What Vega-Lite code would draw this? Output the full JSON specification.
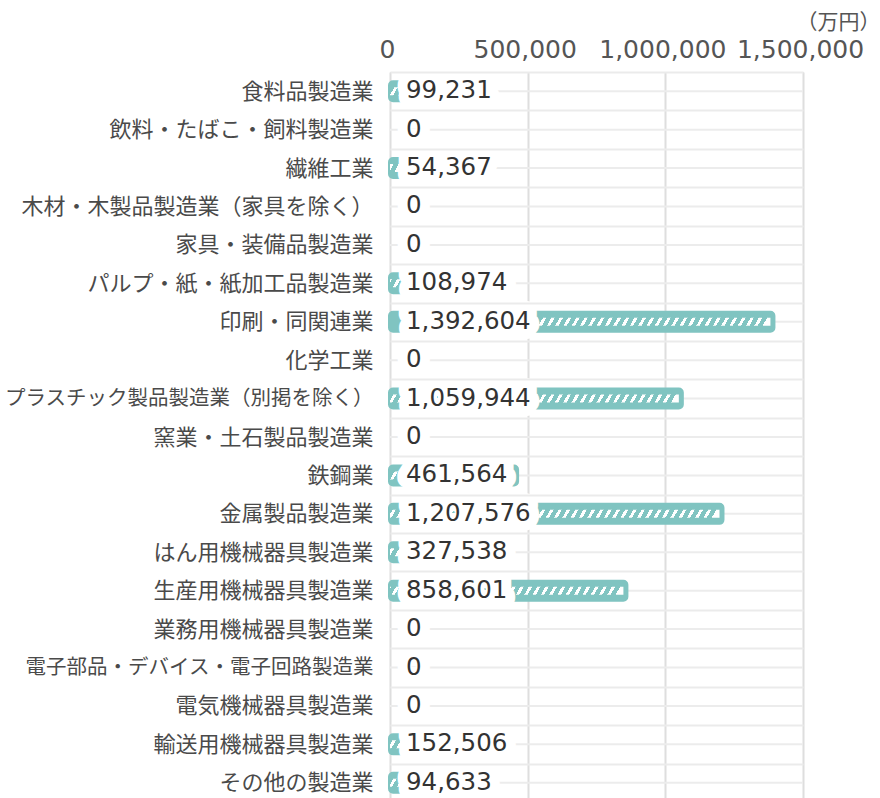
{
  "$schema": "https://vega.github.io/schema/vega-lite/v6.json",
  "autosize": {"type": "none"},
  "padding": {"left": 390, "top": 72, "right": 77, "bottom": 0},
  "width": 413,
  "height": 730,
  "background": "white",
  "data": {
    "values": [
      {"category": "食料品製造業", "value": 99231},
      {"category": "飲料・たばこ・飼料製造業", "value": 0},
      {"category": "繊維工業", "value": 54367},
      {"category": "木材・木製品製造業（家具を除く）", "value": 0},
      {"category": "家具・装備品製造業", "value": 0},
      {"category": "パルプ・紙・紙加工品製造業", "value": 108974},
      {"category": "印刷・同関連業", "value": 1392604},
      {"category": "化学工業", "value": 0},
      {"category": "プラスチック製品製造業（別掲を除く）", "value": 1059944},
      {"category": "窯業・土石製品製造業", "value": 0},
      {"category": "鉄鋼業", "value": 461564},
      {"category": "金属製品製造業", "value": 1207576},
      {"category": "はん用機械器具製造業", "value": 327538},
      {"category": "生産用機械器具製造業", "value": 858601},
      {"category": "業務用機械器具製造業", "value": 0},
      {"category": "電子部品・デバイス・電子回路製造業", "value": 0},
      {"category": "電気機械器具製造業", "value": 0},
      {"category": "輸送用機械器具製造業", "value": 152506},
      {"category": "その他の製造業", "value": 94633}
    ]
  },
  "encoding": {
    "y": {
      "field": "category", "type": "nominal", "sort": null,
      "scale": {"paddingInner": 0, "paddingOuter": 0},
      "axis": {
        "title": null, "domain": false, "ticks": false, "tickBand": "extent",
        "grid": true, "gridColor": "#ebebeb", "gridWidth": 2,
        "labelFont": "Noto Sans CJK JP",
        "labelFontSize": {"condition": {"test": "length(datum.label) >= 17", "value": 20.5}, "value": 22},
        "labelColor": "#4a4a4a", "labelPadding": 17, "labelLimit": 600, "zindex": 1
      }
    }
  },
  "layer": [
    {
      "mark": {"type": "rule", "color": "#ececec", "strokeWidth": 2},
      "encoding": {
        "x": {"datum": 0, "type": "quantitative", "scale": {"domain": [0, 1500000], "nice": false, "zero": true},
          "axis": {
            "orient": "top", "values": [0, 500000, 1000000, 1500000],
            "labelExpr": "format(datum.value, ',')",
            "title": "（万円）", "domain": false, "ticks": false,
            "grid": true, "gridColor": "#dedede", "gridWidth": 2,
            "labelFont": "DejaVu Sans", "labelFontSize": 25, "labelColor": "#555555",
            "labelPadding": 10, "labelOffset": -3, "labelFlush": false, "labelOverlap": false,
            "titleFont": "Noto Sans CJK JP", "titleFontSize": 21, "titleColor": "#555555",
            "titleFontWeight": "normal", "titleX": 490, "titleY": -50,
            "titleAlign": "right", "titleBaseline": "middle", "titleAnchor": "end", "zindex": 0
          }
        },
        "x2": {"datum": 1500000}
      }
    },
    {
      "transform": [{"filter": "datum.value > 0"}],
      "mark": {"type": "bar", "height": 18, "color": "#80c4c1", "stroke": "#80c4c1", "strokeWidth": 4, "cornerRadius": 3},
      "encoding": {
        "x": {"field": "value", "type": "quantitative"},
        "x2": {"datum": 0}
      }
    },
    {
      "transform": [{"filter": "datum.value > 0"}],
      "mark": {
        "type": "bar", "height": 8, "clip": true, "xOffset": -335, "x2Offset": -3,
        "fill": {
          "gradient": "linear", "x1": 0, "y1": 0, "x2": 1, "y2": 0.0136,
          "stops": [
            {"offset": 0, "color": "#80c4c1"}, {"offset": 0.015, "color": "#80c4c1"}, {"offset": 0.015, "color": "#ffffff"}, {"offset": 0.025, "color": "#ffffff"},
            {"offset": 0.025, "color": "#80c4c1"}, {"offset": 0.04, "color": "#80c4c1"}, {"offset": 0.04, "color": "#ffffff"}, {"offset": 0.05, "color": "#ffffff"},
            {"offset": 0.05, "color": "#80c4c1"}, {"offset": 0.065, "color": "#80c4c1"}, {"offset": 0.065, "color": "#ffffff"}, {"offset": 0.075, "color": "#ffffff"},
            {"offset": 0.075, "color": "#80c4c1"}, {"offset": 0.09, "color": "#80c4c1"}, {"offset": 0.09, "color": "#ffffff"}, {"offset": 0.1, "color": "#ffffff"},
            {"offset": 0.1, "color": "#80c4c1"}, {"offset": 0.115, "color": "#80c4c1"}, {"offset": 0.115, "color": "#ffffff"}, {"offset": 0.125, "color": "#ffffff"},
            {"offset": 0.125, "color": "#80c4c1"}, {"offset": 0.14, "color": "#80c4c1"}, {"offset": 0.14, "color": "#ffffff"}, {"offset": 0.15, "color": "#ffffff"},
            {"offset": 0.15, "color": "#80c4c1"}, {"offset": 0.165, "color": "#80c4c1"}, {"offset": 0.165, "color": "#ffffff"}, {"offset": 0.175, "color": "#ffffff"},
            {"offset": 0.175, "color": "#80c4c1"}, {"offset": 0.19, "color": "#80c4c1"}, {"offset": 0.19, "color": "#ffffff"}, {"offset": 0.2, "color": "#ffffff"},
            {"offset": 0.2, "color": "#80c4c1"}, {"offset": 0.215, "color": "#80c4c1"}, {"offset": 0.215, "color": "#ffffff"}, {"offset": 0.225, "color": "#ffffff"},
            {"offset": 0.225, "color": "#80c4c1"}, {"offset": 0.24, "color": "#80c4c1"}, {"offset": 0.24, "color": "#ffffff"}, {"offset": 0.25, "color": "#ffffff"},
            {"offset": 0.25, "color": "#80c4c1"}, {"offset": 0.265, "color": "#80c4c1"}, {"offset": 0.265, "color": "#ffffff"}, {"offset": 0.275, "color": "#ffffff"},
            {"offset": 0.275, "color": "#80c4c1"}, {"offset": 0.29, "color": "#80c4c1"}, {"offset": 0.29, "color": "#ffffff"}, {"offset": 0.3, "color": "#ffffff"},
            {"offset": 0.3, "color": "#80c4c1"}, {"offset": 0.315, "color": "#80c4c1"}, {"offset": 0.315, "color": "#ffffff"}, {"offset": 0.325, "color": "#ffffff"},
            {"offset": 0.325, "color": "#80c4c1"}, {"offset": 0.34, "color": "#80c4c1"}, {"offset": 0.34, "color": "#ffffff"}, {"offset": 0.35, "color": "#ffffff"},
            {"offset": 0.35, "color": "#80c4c1"}, {"offset": 0.365, "color": "#80c4c1"}, {"offset": 0.365, "color": "#ffffff"}, {"offset": 0.375, "color": "#ffffff"},
            {"offset": 0.375, "color": "#80c4c1"}, {"offset": 0.39, "color": "#80c4c1"}, {"offset": 0.39, "color": "#ffffff"}, {"offset": 0.4, "color": "#ffffff"},
            {"offset": 0.4, "color": "#80c4c1"}, {"offset": 0.415, "color": "#80c4c1"}, {"offset": 0.415, "color": "#ffffff"}, {"offset": 0.425, "color": "#ffffff"},
            {"offset": 0.425, "color": "#80c4c1"}, {"offset": 0.44, "color": "#80c4c1"}, {"offset": 0.44, "color": "#ffffff"}, {"offset": 0.45, "color": "#ffffff"},
            {"offset": 0.45, "color": "#80c4c1"}, {"offset": 0.465, "color": "#80c4c1"}, {"offset": 0.465, "color": "#ffffff"}, {"offset": 0.475, "color": "#ffffff"},
            {"offset": 0.475, "color": "#80c4c1"}, {"offset": 0.49, "color": "#80c4c1"}, {"offset": 0.49, "color": "#ffffff"}, {"offset": 0.5, "color": "#ffffff"},
            {"offset": 0.5, "color": "#80c4c1"}, {"offset": 0.515, "color": "#80c4c1"}, {"offset": 0.515, "color": "#ffffff"}, {"offset": 0.525, "color": "#ffffff"},
            {"offset": 0.525, "color": "#80c4c1"}, {"offset": 0.54, "color": "#80c4c1"}, {"offset": 0.54, "color": "#ffffff"}, {"offset": 0.55, "color": "#ffffff"},
            {"offset": 0.55, "color": "#80c4c1"}, {"offset": 0.565, "color": "#80c4c1"}, {"offset": 0.565, "color": "#ffffff"}, {"offset": 0.575, "color": "#ffffff"},
            {"offset": 0.575, "color": "#80c4c1"}, {"offset": 0.59, "color": "#80c4c1"}, {"offset": 0.59, "color": "#ffffff"}, {"offset": 0.6, "color": "#ffffff"},
            {"offset": 0.6, "color": "#80c4c1"}, {"offset": 0.615, "color": "#80c4c1"}, {"offset": 0.615, "color": "#ffffff"}, {"offset": 0.625, "color": "#ffffff"},
            {"offset": 0.625, "color": "#80c4c1"}, {"offset": 0.64, "color": "#80c4c1"}, {"offset": 0.64, "color": "#ffffff"}, {"offset": 0.65, "color": "#ffffff"},
            {"offset": 0.65, "color": "#80c4c1"}, {"offset": 0.665, "color": "#80c4c1"}, {"offset": 0.665, "color": "#ffffff"}, {"offset": 0.675, "color": "#ffffff"},
            {"offset": 0.675, "color": "#80c4c1"}, {"offset": 0.69, "color": "#80c4c1"}, {"offset": 0.69, "color": "#ffffff"}, {"offset": 0.7, "color": "#ffffff"},
            {"offset": 0.7, "color": "#80c4c1"}, {"offset": 0.715, "color": "#80c4c1"}, {"offset": 0.715, "color": "#ffffff"}, {"offset": 0.725, "color": "#ffffff"},
            {"offset": 0.725, "color": "#80c4c1"}, {"offset": 0.74, "color": "#80c4c1"}, {"offset": 0.74, "color": "#ffffff"}, {"offset": 0.75, "color": "#ffffff"},
            {"offset": 0.75, "color": "#80c4c1"}, {"offset": 0.765, "color": "#80c4c1"}, {"offset": 0.765, "color": "#ffffff"}, {"offset": 0.775, "color": "#ffffff"},
            {"offset": 0.775, "color": "#80c4c1"}, {"offset": 0.79, "color": "#80c4c1"}, {"offset": 0.79, "color": "#ffffff"}, {"offset": 0.8, "color": "#ffffff"},
            {"offset": 0.8, "color": "#80c4c1"}, {"offset": 0.815, "color": "#80c4c1"}, {"offset": 0.815, "color": "#ffffff"}, {"offset": 0.825, "color": "#ffffff"},
            {"offset": 0.825, "color": "#80c4c1"}, {"offset": 0.84, "color": "#80c4c1"}, {"offset": 0.84, "color": "#ffffff"}, {"offset": 0.85, "color": "#ffffff"},
            {"offset": 0.85, "color": "#80c4c1"}, {"offset": 0.865, "color": "#80c4c1"}, {"offset": 0.865, "color": "#ffffff"}, {"offset": 0.875, "color": "#ffffff"},
            {"offset": 0.875, "color": "#80c4c1"}, {"offset": 0.89, "color": "#80c4c1"}, {"offset": 0.89, "color": "#ffffff"}, {"offset": 0.9, "color": "#ffffff"},
            {"offset": 0.9, "color": "#80c4c1"}, {"offset": 0.915, "color": "#80c4c1"}, {"offset": 0.915, "color": "#ffffff"}, {"offset": 0.925, "color": "#ffffff"},
            {"offset": 0.925, "color": "#80c4c1"}, {"offset": 0.94, "color": "#80c4c1"}, {"offset": 0.94, "color": "#ffffff"}, {"offset": 0.95, "color": "#ffffff"},
            {"offset": 0.95, "color": "#80c4c1"}, {"offset": 0.965, "color": "#80c4c1"}, {"offset": 0.965, "color": "#ffffff"}, {"offset": 0.975, "color": "#ffffff"},
            {"offset": 0.975, "color": "#80c4c1"}, {"offset": 0.99, "color": "#80c4c1"}, {"offset": 0.99, "color": "#ffffff"}, {"offset": 1, "color": "#ffffff"}
          ]
        }
      },
      "encoding": {
        "x": {"field": "value", "type": "quantitative"},
        "x2": {"field": "value"}
      }
    },
    {
      "mark": {"type": "text", "align": "left", "baseline": "middle", "dx": 16, "font": "DejaVu Sans", "fontSize": 24.5, "fill": "#ffffff", "stroke": "#ffffff", "strokeWidth": 20, "strokeJoin": "round"},
      "encoding": {
        "x": {"datum": 0, "type": "quantitative"},
        "text": {"field": "value", "type": "quantitative", "format": ","}
      }
    },
    {
      "mark": {"type": "text", "align": "left", "baseline": "middle", "dx": 16, "font": "DejaVu Sans", "fontSize": 24.5, "fill": "#333333"},
      "encoding": {
        "x": {"datum": 0, "type": "quantitative"},
        "text": {"field": "value", "type": "quantitative", "format": ","}
      }
    }
  ]
}
